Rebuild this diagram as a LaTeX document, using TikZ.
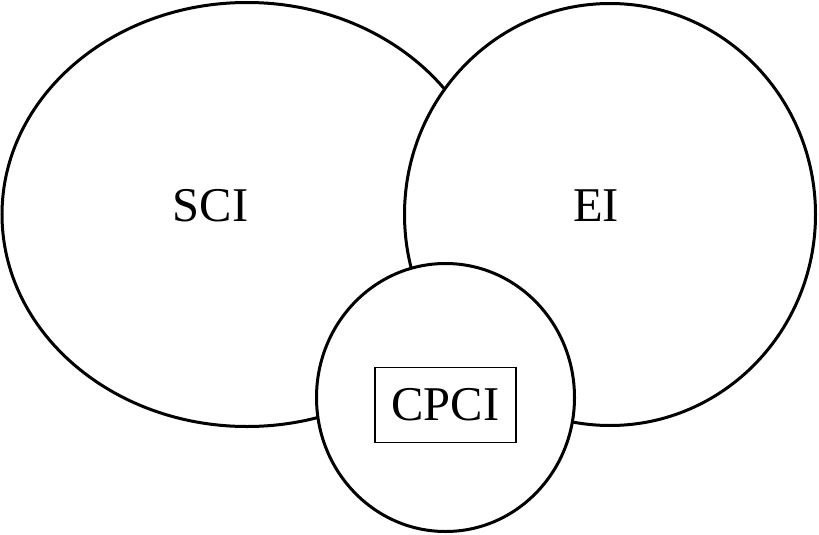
\documentclass[tikz,border=0pt]{standalone}
\usepackage{fontspec}
\setmainfont{Liberation Serif}
\usetikzlibrary{shapes.geometric}
\begin{document}
\begin{tikzpicture}[x=1pt,y=-1pt,
  setshape/.style={ellipse, draw=black, line width=3pt, fill=white, inner sep=0pt},
  lbl/.style={inner sep=0pt, font=\fontsize{48.5}{58}\selectfont},
  boxlbl/.style={draw=black, line width=1.3pt, inner sep=0pt, minimum width=141pt, minimum height=75pt, font=\fontsize{48.5}{58}\selectfont}]
\useasboundingbox (0,0) rectangle (819,535);
\node[setshape, minimum width=490pt, minimum height=424pt] (sci) at (247,214.5) {};
\node[setshape, minimum width=411pt, minimum height=422pt] (ei) at (610,214.5) {};
\node[setshape, minimum width=258pt, minimum height=268pt] (cpci) at (445.5,397.5) {};
\node[lbl] (scilbl) at (210.5,206) {SCI};
\node[lbl] (eilbl) at (596,206) {EI};
\node[boxlbl] (cpcilbl) at (445.5,405) {CPCI};
\end{tikzpicture}
\end{document}
